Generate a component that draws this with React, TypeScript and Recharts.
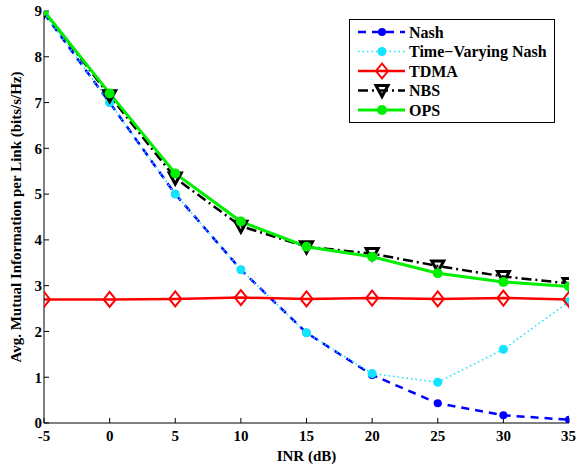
import { LineChart, Line, XAxis, YAxis, Legend } from 'recharts'

// INR (dB) on the x axis
const inr = [-5, 0, 5, 10, 15, 20, 25, 30, 35]
const xTicks = [-5, 0, 5, 10, 15, 20, 25, 30, 35]
const yTicks = [0, 1, 2, 3, 4, 5, 6, 7, 8, 9]

// avg. mutual information per link (bits/s/Hz)
const nash = [8.95, 7.0, 5.0, 3.35, 1.97, 1.05, 0.43, 0.17, 0.07]
const tvNash = [8.95, 7.0, 5.0, 3.35, 1.97, 1.08, 0.89, 1.61, 2.65]
const tdma = [2.7, 2.7, 2.71, 2.74, 2.71, 2.73, 2.71, 2.73, 2.7]
const nbs = [9.0, 7.15, 5.35, 4.3, 3.85, 3.7, 3.43, 3.2, 3.05]
const ops = [9.0, 7.2, 5.45, 4.4, 3.85, 3.63, 3.27, 3.08, 2.98]

const seriesNames = ['Nash', 'Time\u2212Varying Nash', 'TDMA', 'NBS', 'OPS']

const chartData = inr.map((x, i) => ({
  x,
  nash: nash[i],
  tvNash: tvNash[i],
  tdma: tdma[i],
  nbs: nbs[i],
  ops: ops[i],
}))

const FONT = '"Liberation Serif", "Times New Roman", serif'
const BLUE = '#0000ff'
const CYAN = '#10e4ff'
const RED = '#ff0000'
const GREEN = '#00ee00'

const tickStyle = { fill: '#000', fontSize: 15, fontWeight: 'bold', fontFamily: FONT }

function Diamond({ cx, cy }: any) {
  if (cx == null || cy == null) return null
  return (
    <path
      d={`M${cx},${cy - 7.5} L${cx + 6},${cy} L${cx},${cy + 7.5} L${cx - 6},${cy} Z`}
      fill="none"
      stroke={RED}
      strokeWidth={2}
    />
  )
}

function Triangle({ cx, cy }: any) {
  if (cx == null || cy == null) return null
  return (
    <path
      d={`M${cx - 6},${cy - 5} L${cx + 6},${cy - 5} L${cx},${cy + 6} Z`}
      fill="none"
      stroke="#000"
      strokeWidth={3}
      strokeLinejoin="miter"
    />
  )
}

function LegendBox() {
  const rows = [0, 1, 2, 3, 4].map((i) => 13 + i * 19.5)
  return (
    <svg width={206} height={105} style={{ display: 'block' }}>
      <rect x={0.5} y={0.5} width={205} height={103} fill="#fff" stroke="#000" strokeWidth={1} />
      {/* Nash */}
      <line x1={9} x2={56} y1={rows[0]} y2={rows[0]} stroke={BLUE} strokeWidth={2.5} strokeDasharray="8 6" />
      <circle cx={33} cy={rows[0]} r={4} fill={BLUE} />
      {/* Time-Varying Nash */}
      <line x1={9} x2={56} y1={rows[1]} y2={rows[1]} stroke={CYAN} strokeWidth={1.5} strokeDasharray="1.5 3" />
      <circle cx={33} cy={rows[1]} r={4.5} fill={CYAN} />
      {/* TDMA */}
      <line x1={9} x2={56} y1={rows[2]} y2={rows[2]} stroke={RED} strokeWidth={2.5} />
      <Diamond cx={33} cy={rows[2]} />
      {/* NBS */}
      <line x1={9} x2={56} y1={rows[3]} y2={rows[3]} stroke="#000" strokeWidth={2.5} strokeDasharray="10 4 2 4" />
      <Triangle cx={33} cy={rows[3]} />
      {/* OPS */}
      <line x1={9} x2={56} y1={rows[4]} y2={rows[4]} stroke={GREEN} strokeWidth={3} />
      <circle cx={33} cy={rows[4]} r={5} fill={GREEN} />
      {seriesNames.map((name, i) => (
        <text
          key={name}
          x={60}
          y={rows[i] + 5.5}
          fontSize={16}
          fontWeight="bold"
          fontFamily={FONT}
          fill="#000"
        >
          {name}
        </text>
      ))}
    </svg>
  )
}

export default function App() {
  return (
    <div style={{ position: 'absolute', left: 0, top: 0, background: '#fff' }}>
      <LineChart
        width={576}
        height={465}
        data={chartData}
        margin={{ top: 11, right: 7, bottom: 0, left: 0 }}
      >
        <XAxis
          dataKey="x"
          type="number"
          domain={[-5, 35]}
          ticks={xTicks}
          allowDataOverflow
          height={42}
          tickSize={-5}
          tickMargin={12}
          tick={tickStyle}
          axisLine={{ stroke: '#000', strokeWidth: 1 }}
          tickLine={{ stroke: '#000' }}
          label={{
            value: 'INR (dB)',
            position: 'insideBottom',
            offset: 4,
            fill: '#000',
            fontSize: 15,
            fontWeight: 'bold',
            fontFamily: FONT,
          }}
        />
        <XAxis
          xAxisId="top"
          dataKey="x"
          type="number"
          orientation="top"
          domain={[-5, 35]}
          ticks={xTicks}
          height={0}
          tickSize={-5}
          tick={false}
          axisLine={{ stroke: '#000', strokeWidth: 1 }}
          tickLine={{ stroke: '#000' }}
        />
        <YAxis
          type="number"
          domain={[0, 9]}
          ticks={yTicks}
          allowDataOverflow
          width={44}
          tickSize={-5}
          tickMargin={7}
          tick={tickStyle}
          axisLine={{ stroke: '#000', strokeWidth: 1 }}
          tickLine={{ stroke: '#000' }}
          label={{
            content: (props: any) => {
              const vb = props.viewBox || {}
              const cx = vb.x + 18
              const cy = vb.y + vb.height / 2
              return (
                <text
                  x={cx}
                  y={cy}
                  transform={`rotate(-90, ${cx}, ${cy})`}
                  textAnchor="middle"
                  dominantBaseline="middle"
                  fontSize={15}
                  fontWeight="bold"
                  fontFamily={FONT}
                  fill="#000"
                >
                  Avg. Mutual Information per Link (bits/s/Hz)
                </text>
              )
            },
          }}
        />
        <YAxis
          yAxisId="right"
          type="number"
          orientation="right"
          domain={[0, 9]}
          ticks={yTicks}
          width={0}
          tickSize={-5}
          tick={false}
          axisLine={{ stroke: '#000', strokeWidth: 1 }}
          tickLine={{ stroke: '#000' }}
        />
        <Legend
          layout="vertical"
          align="center"
          verticalAlign="middle"
          wrapperStyle={{ left: 349, top: 19, width: 206, height: 105 }}
          content={() => <LegendBox />}
        />
        <Line
          dataKey="nash"
          stroke={BLUE}
          strokeWidth={2.5}
          strokeDasharray="8 6"
          dot={{ r: 4, fill: BLUE, stroke: BLUE, strokeWidth: 0 }}
          isAnimationActive={false}
        />
        <Line
          dataKey="tvNash"
          stroke={CYAN}
          strokeWidth={1.5}
          strokeDasharray="1.5 3"
          dot={{ r: 4.5, fill: CYAN, stroke: CYAN, strokeWidth: 0 }}
          isAnimationActive={false}
        />
        <Line
          dataKey="tdma"
          stroke={RED}
          strokeWidth={2.5}
          dot={(p: any) => <Diamond key={`tdma-${p.index}`} cx={p.cx} cy={p.cy} />}
          isAnimationActive={false}
        />
        <Line
          dataKey="nbs"
          stroke="#000"
          strokeWidth={2.5}
          strokeDasharray="10 4 2 4"
          dot={(p: any) => <Triangle key={`nbs-${p.index}`} cx={p.cx} cy={p.cy} />}
          isAnimationActive={false}
        />
        <Line
          dataKey="ops"
          stroke={GREEN}
          strokeWidth={3}
          dot={{ r: 5, fill: GREEN, stroke: GREEN, strokeWidth: 0 }}
          isAnimationActive={false}
        />
      </LineChart>
    </div>
  )
}
